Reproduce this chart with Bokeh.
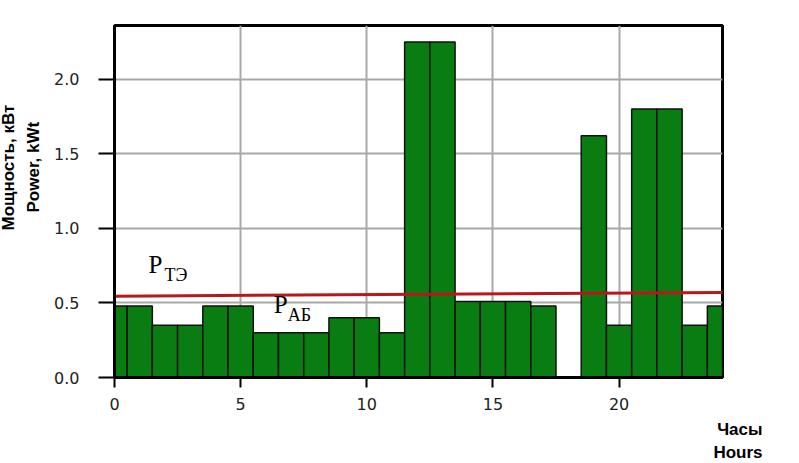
import numpy as np
from bokeh.plotting import figure
from bokeh.models import Range1d, Label, FixedTicker, Title
from bokeh.embed import file_html
from bokeh.resources import INLINE

# Data
hours = [0, 1, 2, 3, 4, 5, 6, 7, 8, 9, 10, 11, 12, 13, 14, 15, 16, 17, 18, 19, 20, 21, 22, 23, 24]
power_ab = [0.48, 0.48, 0.35, 0.35, 0.48, 0.48, 0.30, 0.30, 0.30, 0.40, 0.40, 0.30,
            2.25, 2.25, 0.51, 0.51, 0.51, 0.48, 0.0, 1.62, 0.35, 1.80, 1.80, 0.35, 0.48]
pte_x = [0, 24.1]
pte_y = [0.545, 0.57]
x_ticks = [0, 5, 10, 15, 20]
y_ticks = [0.0, 0.5, 1.0, 1.5, 2.0]

p = figure(output_backend="svg", toolbar_location=None,
           frame_width=608, frame_height=352,
           x_range=Range1d(0, 24.1), y_range=Range1d(0, 2.36),
           min_border_left=114, min_border_right=77,
           min_border_top=25, min_border_bottom=86)
p.background_fill_color = "white"
p.border_fill_color = "white"
p.outline_line_color = "black"
p.outline_line_width = 3

# grid
p.xgrid.ticker = FixedTicker(ticks=x_ticks)
p.ygrid.ticker = FixedTicker(ticks=y_ticks)
for g in (p.xgrid, p.ygrid):
    g.grid_line_color = "#a8a8a8"
    g.grid_line_width = 2

# bars
p.vbar(x=hours, top=power_ab, bottom=0, width=1.0,
       fill_color="#0a7d12", line_color="#111111", line_width=1.5)

# P_TE line
p.line(pte_x, pte_y, line_color="#b8181c", line_width=3)

# axes
p.xaxis.ticker = FixedTicker(ticks=x_ticks)
p.yaxis.ticker = FixedTicker(ticks=y_ticks)
p.xaxis.major_label_overrides = {t: str(t) for t in x_ticks}
p.yaxis.major_label_overrides = {t: f"{t:.1f}" for t in y_ticks}
for ax in (p.xaxis[0], p.yaxis[0]):
    ax.axis_line_color = "black"
    ax.axis_line_width = 3
    ax.major_tick_line_color = "black"
    ax.major_tick_line_width = 2
    ax.major_tick_in = 0
    ax.minor_tick_line_color = None
    ax.major_label_text_font = "DejaVu Sans"
    ax.major_label_text_font_size = "16px"
    ax.major_label_text_color = "#222222"
p.yaxis.major_tick_out = 16
p.yaxis.major_label_standoff = 19
p.xaxis.major_tick_out = 10
p.xaxis.major_label_standoff = 10

def side_title(text, place, align, offset, standoff, size):
    p.add_layout(Title(text=text, align=align, offset=offset, standoff=standoff,
                       text_font="Liberation Sans", text_font_size=size,
                       text_font_style="bold", text_color="black"), place)

# y-axis title (two lines), nearest first
side_title("Power, kWt", "left", "left", 165, 17, "17px")
side_title("Мощность, кВт", "left", "left", 147, -8, "17px")
# x-axis title
side_title("Часы", "below", "right", -40, 11, "17px")
side_title("Hours", "below", "right", -40, -8, "17px")

def dlab(x, y, text, size):
    p.add_layout(Label(x=x, y=y, text=text, text_font="Liberation Serif",
                       text_font_size=size, text_color="black"))

# series annotations
dlab(1.35, 0.67, "P", "25px")
dlab(1.98, 0.62, "ТЭ", "18px")
dlab(6.31, 0.40, "P", "25px")
dlab(6.87, 0.35, "АБ", "18px")

open("out.html", "w").write(file_html(p, INLINE))
